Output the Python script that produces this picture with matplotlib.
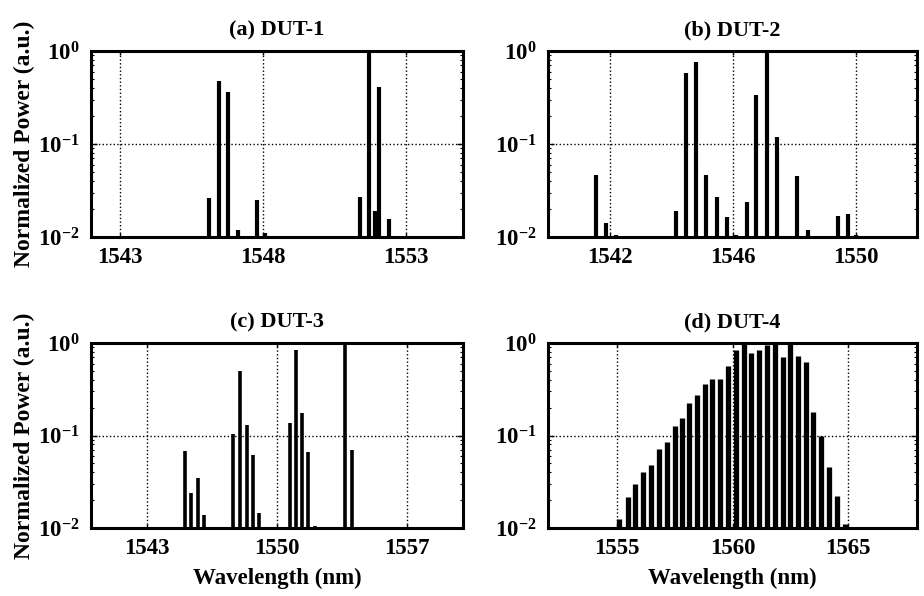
import numpy as np
import matplotlib
matplotlib.use('Agg')
import matplotlib.pyplot as plt
from matplotlib.ticker import LogLocator, FixedLocator, NullFormatter

plt.rcParams['font.family'] = ['Liberation Serif', 'DejaVu Serif']
plt.rcParams['font.weight'] = 'bold'
plt.rcParams['mathtext.fontset'] = 'custom'
plt.rcParams['mathtext.rm'] = 'Liberation Serif:bold'
plt.rcParams['mathtext.bf'] = 'Liberation Serif:bold'
plt.rcParams['mathtext.it'] = 'Liberation Serif:bold:italic'

# Пики спектров (длина волны, нм / нормированная мощность)
wl_a = [1546.14, 1546.46, 1546.80, 1547.13, 1547.79, 1548.08,
        1551.41, 1551.73, 1551.93, 1552.08, 1552.43]
pw_a = [0.026, 0.47, 0.365, 0.012, 0.025, 0.011,
        0.027, 1.0, 0.019, 0.41, 0.0156]

wl_b = [1541.55, 1541.89, 1542.22, 1544.15, 1544.49, 1544.82, 1545.15,
        1545.48, 1545.81, 1546.10, 1546.46, 1546.78, 1547.11, 1547.45,
        1548.10, 1548.45, 1549.42, 1549.74, 1550.03]
pw_b = [0.046, 0.0143, 0.0105, 0.019, 0.58, 0.77, 0.046,
        0.0267, 0.0163, 0.0105, 0.024, 0.336, 1.0, 0.118,
        0.045, 0.0118, 0.017, 0.0175, 0.0105]

wl_c = [1545.06, 1545.40, 1545.74, 1546.06, 1547.66, 1548.02, 1548.38,
        1548.70, 1549.03, 1550.68, 1551.02, 1551.36, 1551.69, 1552.02,
        1553.64, 1554.02]
pw_c = [0.068, 0.0237, 0.035, 0.0138, 0.105, 0.5, 0.131,
        0.062, 0.0146, 0.135, 0.83, 0.173, 0.066, 0.0105,
        1.0, 0.07]

wl_d = [1555.10, 1555.46, 1555.79, 1556.14, 1556.48, 1556.83, 1557.16,
        1557.50, 1557.81, 1558.12, 1558.47, 1558.81, 1559.13, 1559.47,
        1559.82, 1560.16, 1560.49, 1560.82, 1561.17, 1561.50, 1561.83,
        1562.17, 1562.50, 1562.86, 1563.18, 1563.51, 1563.84, 1564.19,
        1564.51, 1564.87]
pw_d = [0.0125, 0.0214, 0.030, 0.040, 0.048, 0.071, 0.085,
        0.127, 0.153, 0.226, 0.273, 0.359, 0.413, 0.413,
        0.565, 0.85, 1.0, 0.77, 0.85, 0.95, 1.0,
        0.71, 1.0, 0.72, 0.62, 0.18, 0.10, 0.046,
        0.022, 0.011]

titles = ['(a) DUT-1', '(b) DUT-2', '(c) DUT-3', '(d) DUT-4']
xlims = [(1542, 1555), (1540, 1552), (1540, 1560), (1552, 1568)]
xticks = [[1543, 1548, 1553], [1542, 1546, 1550],
          [1543, 1550, 1557], [1555, 1560, 1565]]
data = [(wl_a, pw_a), (wl_b, pw_b), (wl_c, pw_c), (wl_d, pw_d)]
widths = [3.0, 3.0, 2.6, 3.8]

fig = plt.figure(figsize=(9.24, 5.96), dpi=100)
W, H = 924, 596
# позиции осей в пикселях (лево, верх, право, низ)
boxes = [(91, 51, 463, 237), (548, 51, 917, 237),
         (91, 343, 463, 528), (548, 343, 917, 528)]

for i, (l, t, r, b) in enumerate(boxes):
    ax = fig.add_axes([l / W, 1 - b / H, (r - l) / W, (b - t) / H])
    wl, pw = data[i]
    ax.set_yscale('log')
    ax.vlines(wl, 1e-2, pw, colors='black', linewidth=widths[i])
    ax.set_xlim(*xlims[i])
    ax.set_ylim(1e-2, 1e0)
    ax.xaxis.set_major_locator(FixedLocator(xticks[i]))
    ax.set_xticklabels([str(v) for v in xticks[i]])
    ax.set_yticks([1e-2, 1e-1, 1e0])
    ax.set_yticklabels([r'$\mathbf{10^{-2}}$', r'$\mathbf{10^{-1}}$', r'$\mathbf{10^{0}}$'])
    ax.yaxis.set_minor_locator(LogLocator(base=10, subs=np.arange(2, 10)))
    ax.yaxis.set_minor_formatter(NullFormatter())
    ax.tick_params(axis='both', which='both', direction='in', top=True, right=True)
    ax.tick_params(axis='x', which='major', length=3, width=1, labelsize=16.5, pad=7)
    ax.tick_params(axis='y', which='major', length=4, width=1, labelsize=16.5, pad=8)
    ax.tick_params(axis='y', which='minor', length=2, width=0.8)
    ax.grid(True, which='major', linestyle=':', color='black', linewidth=1.0)
    for sp in ax.spines.values():
        sp.set_linewidth(2.2)
    ax.set_title(titles[i], fontsize=16, fontweight='bold', pad=11)
    if i % 2 == 0:
        ax.set_ylabel('Normalized Power (a.u.)', fontsize=17, fontweight='bold')
        ax.yaxis.set_label_coords(-0.15, 0.5)
    if i >= 2:
        ax.set_xlabel('Wavelength (nm)', fontsize=16.5, fontweight='bold')
        ax.xaxis.set_label_coords(0.5, -0.215)

fig.savefig('out.png', dpi=100)
